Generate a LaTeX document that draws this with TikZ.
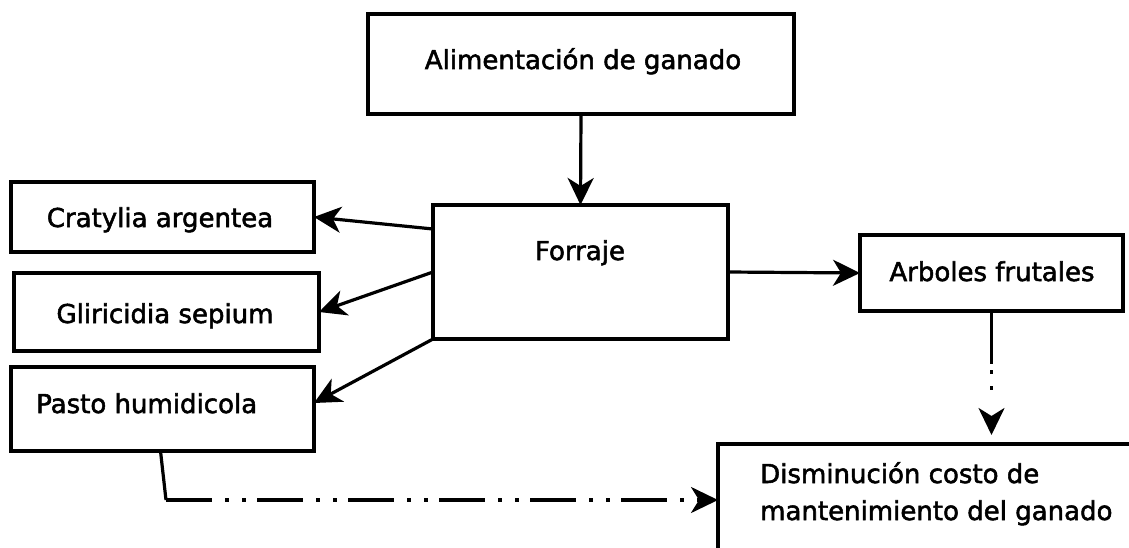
\documentclass[tikz,border=0pt]{standalone}
\usepackage{fontspec}
\setmainfont{DejaVu Sans}[FakeBold=2]
\usetikzlibrary{arrows.meta}
\begin{document}
\begin{tikzpicture}[x=1pt,y=-1pt,
  box/.style={draw, line width=3.2pt, inner sep=0pt, outer sep=0pt},
  lbl/.style={font=\fontsize{26}{37}\selectfont, inner sep=0pt, anchor=base},
  conn/.style={line width=3.2pt, -{Stealth[length=27pt,width=26pt,inset=8pt]}},
  dashdd/.style={dash pattern=on 46pt off 13pt on 4pt off 13pt on 4pt off 11pt},
  vdashdd/.style={dash pattern=on 53pt off 6pt on 4pt off 12pt on 4pt off 60pt}]
\fill[white] (0,0) rectangle (1129,548);
\useasboundingbox (0,0) rectangle (1129,548);
\clip (0,0) rectangle (1129,548);
% boxes
\node[box, minimum width=426pt, minimum height=100pt] (alim) at (581,64) {};
\node[box, minimum width=295pt, minimum height=134pt] (forr) at (580.5,272) {};
\node[box, minimum width=303pt, minimum height=70pt] (crat) at (162.5,217) {};
\node[box, minimum width=305pt, minimum height=78pt] (glir) at (166.5,312) {};
\node[box, minimum width=303pt, minimum height=84pt] (pasto) at (162.5,409) {};
\node[box, minimum width=263pt, minimum height=76pt] (arb) at (991.5,273) {};
\node[box, anchor=north west, minimum width=440pt, minimum height=140pt] (dism) at (718,444) {};
% labels
\node[lbl] (talim) at (583,69) {Alimentación de ganado};
\node[lbl] (tforr) at (580,260) {Forraje};
\node[lbl] (tcrat) at (160,227) {Cratylia argentea};
\node[lbl] (tglir) at (165,323) {Gliricidia sepium};
\node[lbl, anchor=base west] (tpasto) at (36,413) {Pasto humidicola};
\node[lbl] (tarb) at (992,281) {Arboles frutales};
\node[lbl, anchor=base west] (tdismA) at (760,483) {Disminución costo de};
\node[lbl, anchor=base west] (tdismB) at (760,520) {mantenimiento del ganado};
% connectors
\draw[conn] (alim.south) -- (forr.north);
\draw[conn] ([yshift=-24pt]forr.north west) -- (crat.east);
\draw[conn] (forr.west) -- (glir.east);
\draw[conn] (forr.south west) -- ([yshift=6pt]pasto.east);
\draw[conn] (forr.east) -- (arb.west);
\coordinate (dtop) at (arb.south |- dism.north);
\draw[conn, vdashdd, shorten >=9pt] (arb.south) -- (dtop);
\coordinate (pbot) at ([xshift=-2pt]pasto.south);
\coordinate (corner) at (166,500);
\coordinate (hend) at (dism.west |- corner);
\draw[line width=3.2pt] (pbot) -- (corner);
\draw[conn, dashdd] (corner) -- (hend);
\end{tikzpicture}
\end{document}
